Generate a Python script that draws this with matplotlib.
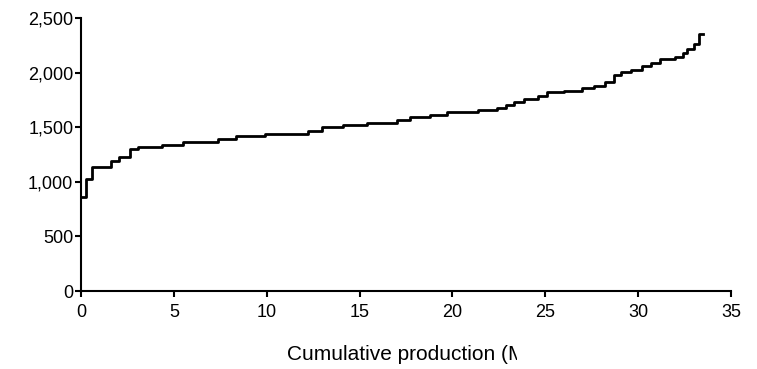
import matplotlib
matplotlib.use("Agg")
import matplotlib.pyplot as plt
from matplotlib.ticker import StrMethodFormatter
from matplotlib.patches import Rectangle

plt.rcParams['font.family'] = ['Liberation Sans', 'DejaVu Sans']

# cumulative production at the start of each step, and the step's cost
x_start = [0, 0.29, 0.61, 1.63, 2.04, 2.62, 3.06, 4.34, 5.5, 7.37, 8.35, 9.93,
           12.2, 13.0, 14.1, 15.4, 17.0, 17.7, 18.8, 19.7, 21.4, 22.4, 22.9,
           23.3, 23.85, 24.6, 25.1, 26.0, 27.0, 27.6, 28.2, 28.7, 29.1, 29.6,
           30.2, 30.7, 31.2, 32.0, 32.4, 32.65, 33.0, 33.26]
cost = [860, 1028, 1134, 1195, 1225, 1296, 1317, 1341, 1362, 1393, 1417, 1439,
        1469, 1499, 1521, 1539, 1567, 1590, 1615, 1636, 1661, 1676, 1706,
        1734, 1758, 1782, 1818, 1834, 1855, 1880, 1916, 1977, 2001, 2026,
        2062, 2092, 2123, 2147, 2178, 2214, 2260, 2351]
x_end = 33.5

xs = x_start + [x_end]
ys = cost + [cost[-1]]

W, H = 757, 369
fig = plt.figure(figsize=(W / 100, H / 100), dpi=100)
ax = fig.add_axes([81 / W, 1 - 291 / H, (731 - 81) / W, (291 - 18) / H])

ax.step(xs, ys, where='post', color='black', lw=2.0)

ax.set_xlim(0, 35)
ax.set_ylim(0, 2500)
ax.set_xticks(range(0, 36, 5))
ax.set_yticks(range(0, 2501, 500))
ax.yaxis.set_major_formatter(StrMethodFormatter('{x:,.0f}'))

for s in ['top', 'right']:
    ax.spines[s].set_visible(False)
for s in ['left', 'bottom']:
    ax.spines[s].set_linewidth(1.5)
ax.tick_params(direction='out', length=4.5, width=1.5, labelsize=13)
ax.tick_params(axis='x', pad=5)
ax.tick_params(axis='y', pad=1)

# x label is cut off in the original
fig.text(287 / W, 1 - 355 / H, 'Cumulative production (Mt)',
         fontsize=15, ha='left', va='center')
fig.patches.append(Rectangle((517 / W, 0), (W - 517) / W, 30 / H,
                             transform=fig.transFigure, facecolor='white',
                             edgecolor='none', zorder=5))

fig.savefig('out.png', dpi=100)
